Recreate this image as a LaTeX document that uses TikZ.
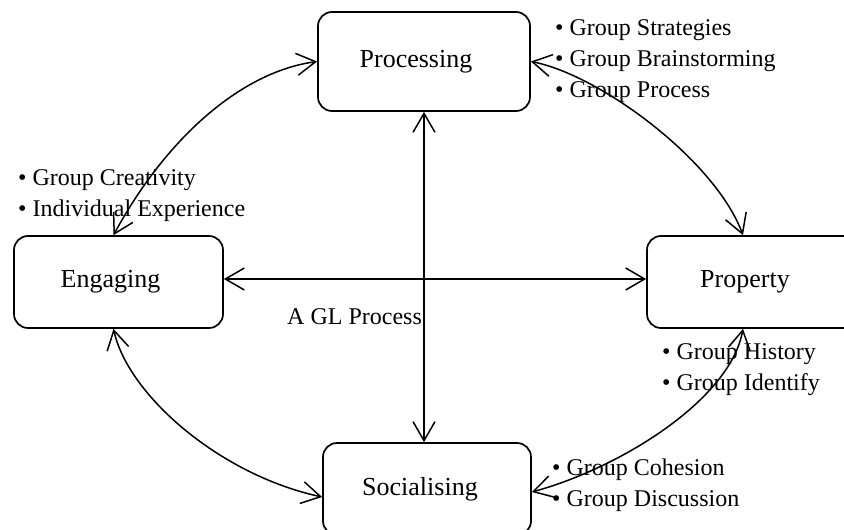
\documentclass[tikz,border=0pt]{standalone}
\usepackage{fontspec}
\setmainfont{Liberation Serif}
\usetikzlibrary{arrows.meta,calc}
\begin{document}
\begin{tikzpicture}[x=1pt,y=-1pt,
  box/.style={draw, line width=1.7pt, rounded corners=14pt, minimum height=92pt,
    inner sep=0pt, font=\fontsize{26}{30}\selectfont},
  lst/.style={inner sep=0pt, align=left, font=\fontsize{24}{31}\selectfont},
  conn/.style={line width=1.5pt,
    {Straight Barb[length=19pt,width=22pt]}-{Straight Barb[length=19pt,width=22pt]}}]
\useasboundingbox (0,0) rectangle (844,530);
\clip (0,0) rectangle (844,530);

% boxes
\node[box, minimum width=212pt, minimum height=99pt] (proc) at (424,61.5) {Processing\hspace*{16pt}};
\node[box, minimum width=209pt] (eng) at (118.5,282) {Engaging\hspace*{16pt}};
\node[box, minimum width=212pt] (prop) at (753,282) {Property\hspace*{16pt}};
\node[box, minimum width=208pt] (soc) at (427,489) {Socialising\hspace*{14pt}};

% lists
\node[lst, anchor=north west] (strat) at (555,19) {• Group Strategies\\• Group Brainstorming\\• Group Process};
\node[lst, anchor=north west] (creat) at (18,169) {• Group Creativity\\• Individual Experience};
\node[lst, anchor=north west] (hist) at (662,343) {• Group History\\• Group Identify};
\node[lst, anchor=north west] (coh) at (552,459) {• Group Cohesion\\• Group Discussion};
\node[lst, anchor=west] (gl) at (287,317) {A GL Process};

% connectors
\draw[conn] (proc.south) -- (proc.south |- soc.north);
\draw[conn] ($(eng.east)+(0,-3)$) -- ($(prop.west)+(0,-3)$);
\draw[conn] (proc.west) .. controls (240,72) and (165,140) .. ($(eng.north)+(-5,0)$);
\draw[conn] ($(eng.south)+(-5,0)$) .. controls (128,395) and (220,475) .. ($(soc.west)+(0,8)$);
\draw[conn] (proc.east) .. controls (600,75) and (715,160) .. ($(prop.north)+(-10,0)$);
\draw[conn] ($(prop.south)+(-10,0)$) .. controls (730,400) and (620,468) .. ($(soc.east)+(0,3)$);
\end{tikzpicture}
\end{document}
